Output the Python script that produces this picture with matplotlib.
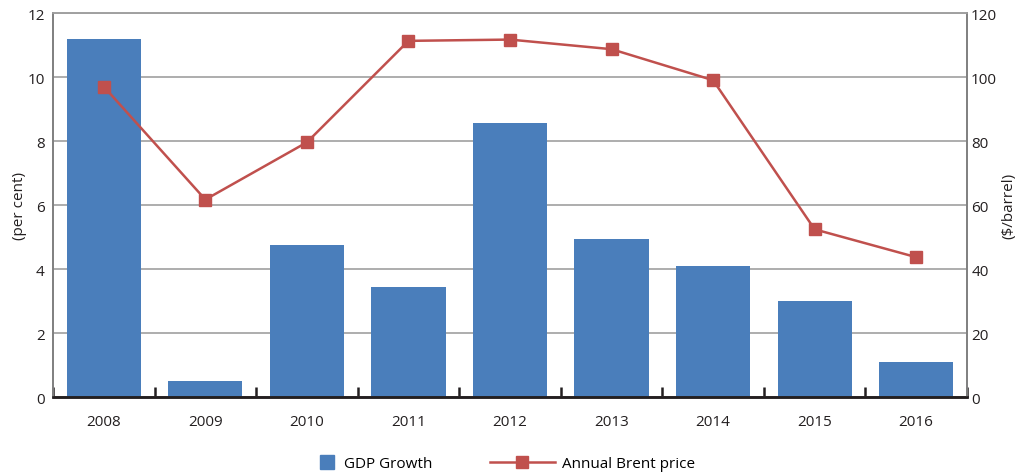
import numpy as np
import matplotlib.pyplot as plt
from matplotlib.lines import Line2D

plt.rcParams['font.family'] = ['Open Sans', 'DejaVu Sans']

years = ['2008', '2009', '2010', '2011', '2012', '2013', '2014', '2015', '2016']
gdp_growth = [11.2, 0.5, 4.75, 3.45, 8.55, 4.95, 4.1, 3.0, 1.1]
brent_price = [97.0, 61.7, 79.6, 111.3, 111.7, 108.7, 99.0, 52.4, 43.7]

bar_color = '#4a7ebb'
line_color = '#c0504d'
text_color = '#231f20'

fig = plt.figure(figsize=(10.2, 4.77), dpi=100)
ax1 = fig.add_axes([0.052, 0.1656, 0.896, 0.805])
ax2 = ax1.twinx()

x = np.arange(len(years))

# bars: GDP growth on the left axis
ax1.bar(x, gdp_growth, width=0.73, color=bar_color, zorder=2)
ax1.set_ylim(0, 12)
ax1.set_xlim(-0.5, len(years) - 0.5)
ax1.set_yticks(np.arange(0, 13, 2))
ax1.yaxis.grid(True, color='#a0a0a0', linewidth=1.2, zorder=0)
ax1.set_axisbelow(True)
ax1.set_ylabel('(per cent)', fontsize=11, color=text_color, labelpad=0)

# category ticks sit on the boundaries between years
ax1.set_xticks(x)
ax1.set_xticklabels(years)
ax1.set_xticks(np.arange(-0.5, len(years), 1), minor=True)
ax1.tick_params(axis='x', which='major', length=0, pad=12, labelsize=11, labelcolor=text_color)
ax1.tick_params(axis='x', which='minor', direction='in', length=7, width=1.8, color='#231f20')
ax1.tick_params(axis='y', length=0, pad=6, labelsize=11, labelcolor=text_color)

# line: Brent price on the right axis
ax2.plot(x, brent_price, color=line_color, linewidth=1.8, marker='s',
         markersize=9, markerfacecolor=line_color, markeredgecolor=line_color, zorder=3)
ax2.set_ylim(0, 120)
ax2.set_yticks(np.arange(0, 121, 20))
ax2.tick_params(axis='y', length=0, pad=3, labelsize=11, labelcolor=text_color)
ax2.set_ylabel('($/barrel)', fontsize=11, color=text_color, labelpad=3)

for ax in (ax1, ax2):
    ax.spines['top'].set_color('#a0a0a0')
    ax.spines['top'].set_linewidth(1.2)
    ax.spines['left'].set_color('#7f7f7f')
    ax.spines['left'].set_linewidth(1.2)
    ax.spines['right'].set_color('#7f7f7f')
    ax.spines['right'].set_linewidth(1.2)
    ax.spines['bottom'].set_color('#231f20')
    ax.spines['bottom'].set_linewidth(1.8)

# two separate legend entries below the plot
gdp_handle = Line2D([0], [0], linestyle='none', marker='s', markersize=10,
                    markerfacecolor=bar_color, markeredgecolor=bar_color)
brent_handle = Line2D([0], [0], color=line_color, linewidth=1.8, marker='s',
                      markersize=9, markerfacecolor=line_color, markeredgecolor=line_color)
fig.legend([gdp_handle], ['GDP Growth'], loc='center left',
           bbox_to_anchor=(0.313, 0.026), frameon=False, fontsize=11,
           handlelength=1.0, handletextpad=0.6, borderpad=0, borderaxespad=0)
fig.legend([brent_handle], ['Annual Brent price'], loc='center left',
           bbox_to_anchor=(0.480, 0.026), frameon=False, fontsize=11,
           handlelength=4.3, handletextpad=0.45, borderpad=0, borderaxespad=0)

fig.savefig('out.png', dpi=100)
